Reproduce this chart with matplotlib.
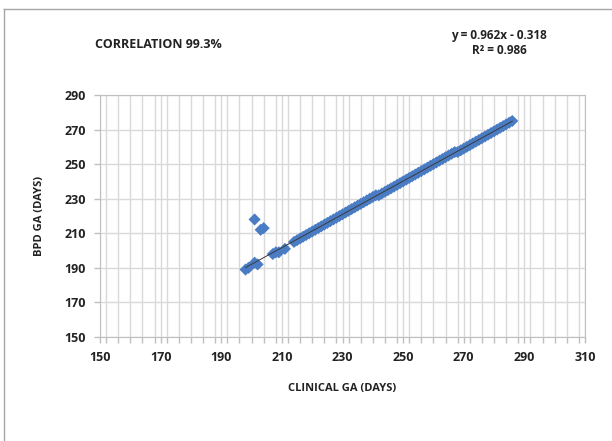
import matplotlib
matplotlib.use("Agg")
import matplotlib.pyplot as plt
from matplotlib.lines import Line2D
from matplotlib.ticker import MultipleLocator

# ---- data ----
clinical_ga = [198, 199, 201, 202, 201, 203, 204, 207, 208, 209, 211,
               214, 215, 216, 217, 218, 219, 220, 221, 222, 223, 224, 225,
               226, 227, 228, 229, 230, 231, 232, 233, 234, 235, 236, 237,
               238, 239, 240, 241, 242, 243, 244, 245, 246, 247, 248, 249,
               250, 251, 252, 253, 254, 255, 256, 257, 258, 259, 260, 261,
               262, 263, 264, 265, 266, 267, 268, 269, 270, 271, 272, 273,
               274, 275, 276, 277, 278, 279, 280, 281, 282, 283, 284, 285, 286]
bpd_ga = [189, 190, 193, 192, 218, 212, 213, 198, 199, 199, 201,
          205, 206, 207, 208, 209, 210, 211, 212, 213, 214, 215, 216,
          217, 218, 219, 220, 221, 222, 223, 224, 225, 226, 227, 228,
          229, 230, 231, 232, 232, 233, 234, 235, 236, 237, 238, 239,
          240, 241, 242, 243, 244, 245, 246, 247, 248, 249, 250, 251,
          252, 253, 254, 255, 256, 257, 257, 258, 259, 260, 261, 262,
          263, 264, 265, 266, 267, 268, 269, 270, 271, 272, 273, 274, 275]
slope = 0.962
intercept = -0.318
r_squared = 0.986
trend_x = [198, 286]
x_ticks = [150, 170, 190, 210, 230, 250, 270, 290, 310]
y_ticks = [150, 170, 190, 210, 230, 250, 270, 290]

plt.rcParams['font.family'] = ['Open Sans', 'DejaVu Sans']

fig = plt.figure(figsize=(6.12, 4.41), dpi=100)
ax = fig.add_axes([100/612, 1-337/441, 485/612, 242/441])

ax.scatter(clinical_ga, bpd_ga, marker='D', s=38, color='#4A7CC4',
           edgecolors='none', zorder=3)
ax.plot(trend_x, [slope*v + intercept for v in trend_x], color='#3a3a3a',
        lw=0.7, zorder=4)

ax.set_xlim(150, 310)
ax.set_ylim(150, 290)
ax.set_xticks(x_ticks)
ax.set_yticks(y_ticks)
ax.xaxis.set_minor_locator(MultipleLocator(4))
ax.grid(which='major', color='#D9D9D9', lw=1)
ax.grid(which='minor', axis='x', color='#D9D9D9', lw=1)
ax.set_axisbelow(True)
for s in ax.spines.values():
    s.set_color('#BFBFBF')
ax.tick_params(which='both', color='#BFBFBF', length=4, width=1)
ax.tick_params(axis='both', labelsize=9, pad=6)
for lab in ax.get_xticklabels() + ax.get_yticklabels():
    lab.set_fontweight('bold')
    lab.set_color('#222222')

ax.set_xlabel('CLINICAL GA (DAYS)', fontsize=8, fontweight='bold',
              labelpad=14, color='#222222')
ax.set_ylabel('BPD GA (DAYS)', fontsize=8, fontweight='bold',
              labelpad=14, color='#222222')

fig.text(95/612, 1-45/441, 'CORRELATION 99.3%', fontsize=9,
         fontweight='bold', va='center', ha='left', color='#222222')
fig.text(499/612, 1-35/441, f'y = {slope}x - {abs(intercept)}', fontsize=8.5,
         fontweight='bold', va='center', ha='center', color='#222222')
fig.text(499/612, 1-50/441, f'R² = {r_squared}', fontsize=8.5,
         fontweight='bold', va='center', ha='center', color='#222222')

# outer frame (left and top)
fig.add_artist(Line2D([4/612, 4/612], [0, 1-9/441], transform=fig.transFigure,
                      color='#A6A6A6', lw=1))
fig.add_artist(Line2D([4/612, 1], [1-9/441, 1-9/441], transform=fig.transFigure,
                      color='#A6A6A6', lw=1))

fig.savefig('out.png', dpi=100)
